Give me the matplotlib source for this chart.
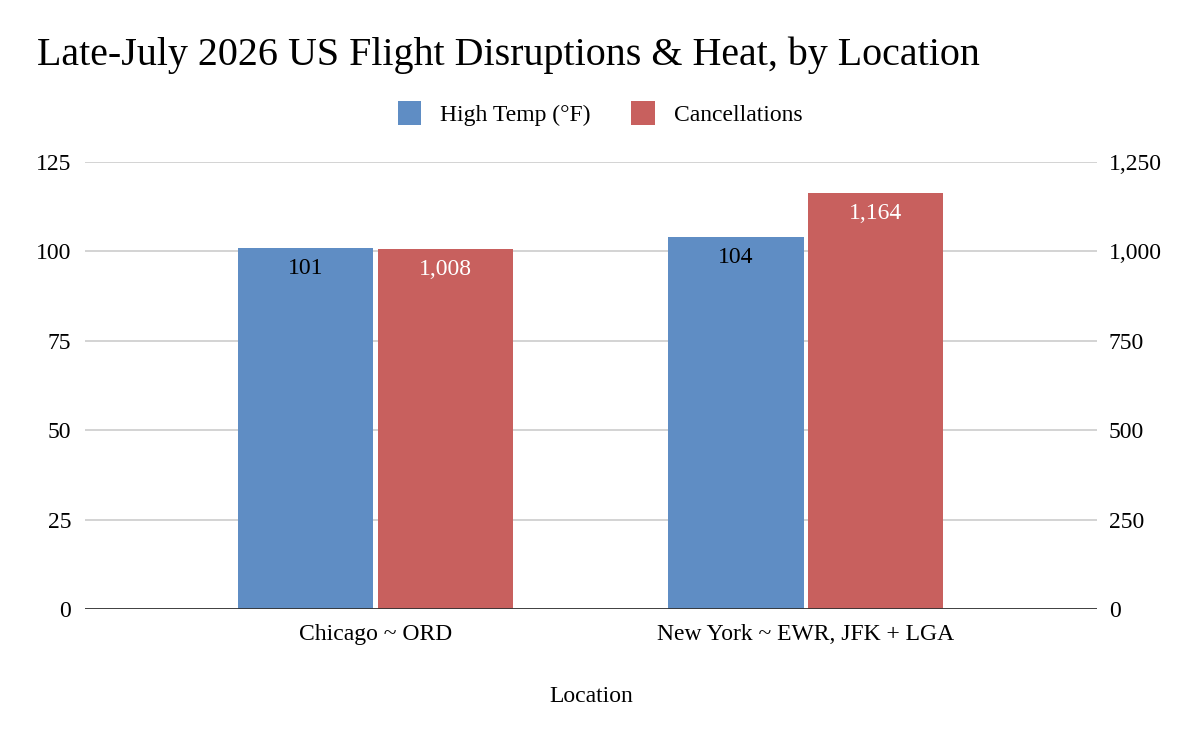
import numpy as np
import matplotlib
matplotlib.use('Agg')
import matplotlib.pyplot as plt
from matplotlib.ticker import FuncFormatter

# data
locations = ['Chicago ~ ORD', 'New York ~ EWR, JFK + LGA']
high_temp = [101, 104]
cancellations = [1008, 1164]
left_ticks = [0, 25, 50, 75, 100, 125]
right_ticks = [0, 250, 500, 750, 1000, 1250]

blue = '#5F8DC4'
red = '#C8605E'

plt.rcParams['font.family'] = ['Liberation Serif', 'DejaVu Serif']
fs = 17

fig = plt.figure(figsize=(12, 7.42), dpi=100)
ax = fig.add_axes([0.0708, 0.1792, 0.8433, 0.6025])
ax2 = ax.twinx()

x = np.arange(len(locations))
w = 0.314
off = 0.1625

b1 = ax.bar(x - off, high_temp, w, color=blue, zorder=3, label='High Temp (°F)')
b2 = ax2.bar(x + off, cancellations, w, color=red, zorder=3, label='Cancellations')

ax.set_xlim(-0.675, 1.676)
ax.set_ylim(0, 125)
ax2.set_ylim(0, 1250)
ax.set_yticks(left_ticks)
ax2.set_yticks(right_ticks)
ax2.yaxis.set_major_formatter(FuncFormatter(lambda v, p: f'{int(v):,}'))

ax.set_axisbelow(True)
ax.grid(axis='y', color='#cccccc', linewidth=1.2, zorder=0)
ax.set_xticks(x)
ax.set_xticklabels(locations, fontsize=fs)
ax.set_xlabel('Location', fontsize=fs, labelpad=29)

for a in (ax, ax2):
    for s in ['top', 'left', 'right', 'bottom']:
        a.spines[s].set_visible(False)
    a.tick_params(length=0, labelsize=fs)
ax.tick_params(axis='y', pad=10)
ax2.tick_params(axis='y', pad=8.5)
ax.tick_params(axis='x', pad=11)

# baseline
ax2.axhline(0, color='#333333', linewidth=2, zorder=5)

for rect, v in zip(b1, high_temp):
    ax.annotate(f'{v:,}', (rect.get_x() + rect.get_width() / 2, v),
                xytext=(0, -15), textcoords='offset points',
                ha='center', va='center', fontsize=fs, color='black')
for rect, v in zip(b2, cancellations):
    ax2.annotate(f'{v:,}', (rect.get_x() + rect.get_width() / 2, v),
                 xytext=(0, -15), textcoords='offset points',
                 ha='center', va='center', fontsize=fs, color='white')

fig.text(0.031, 0.925, 'Late-July 2026 US Flight Disruptions & Heat, by Location',
         fontsize=28.8, ha='left', va='center')

handles = [b1, b2]
fig.legend(handles, [h.get_label() for h in handles], loc='center',
           bbox_to_anchor=(0.5, 0.847), ncol=2, frameon=False, fontsize=fs,
           handlelength=1.0, handleheight=1.2, handletextpad=0.8, columnspacing=1.7)

fig.savefig('out.png', dpi=100)
